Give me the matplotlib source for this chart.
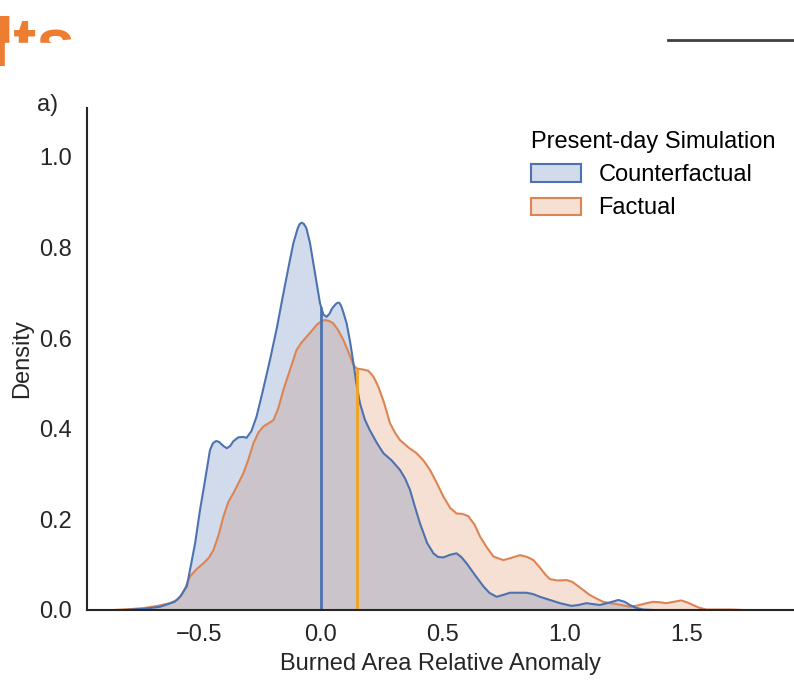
#!/usr/bin/env python3
"""
KDE-Vergleich Burned Area: Counterfactual vs. Factual (Present-day Simulation)
"""

import matplotlib
matplotlib.use('Agg')
import matplotlib.pyplot as plt
from matplotlib.patches import Patch, Rectangle
from matplotlib.lines import Line2D
import numpy as np

plt.rcParams['font.family'] = ['Liberation Sans', 'DejaVu Sans']

# Dichtekurven (x = Anomalie, y = Dichte)
cf_x = [-0.80, -0.72, -0.66, -0.60, -0.578, -0.55, -0.537, -0.516, -0.496, -0.475,
        -0.455, -0.443, -0.43, -0.418, -0.40, -0.386, -0.372, -0.36, -0.339, -0.32,
        -0.305, -0.285, -0.264, -0.24, -0.209, -0.18, -0.154, -0.13, -0.113, -0.095,
        -0.087, -0.079, -0.07, -0.06, -0.045, -0.025, -0.004, 0.01, 0.023, 0.035,
        0.045, 0.06, 0.068, 0.075, 0.082, 0.09, 0.105, 0.12, 0.133, 0.145,
        0.16, 0.18, 0.2, 0.23, 0.256, 0.29, 0.324, 0.345, 0.365, 0.385,
        0.406, 0.435, 0.461, 0.48, 0.502, 0.53, 0.556, 0.575, 0.597, 0.63,
        0.666, 0.69, 0.72, 0.745, 0.775, 0.81, 0.843, 0.87, 0.898, 0.939,
        0.98, 1.027, 1.055, 1.088, 1.115, 1.143, 1.18, 1.219, 1.245, 1.266,
        1.29, 1.32, 1.36]
cf_d = [0.0, 0.003, 0.007, 0.018, 0.029, 0.052, 0.088, 0.147, 0.22, 0.287,
        0.353, 0.368, 0.373, 0.371, 0.362, 0.357, 0.362, 0.372, 0.381, 0.382,
        0.38, 0.395, 0.427, 0.48, 0.552, 0.625, 0.699, 0.765, 0.81, 0.843,
        0.852, 0.855, 0.852, 0.843, 0.81, 0.745, 0.677, 0.652, 0.647, 0.654,
        0.665, 0.675, 0.678, 0.678, 0.672, 0.66, 0.633, 0.59, 0.545, 0.50,
        0.456, 0.42, 0.397, 0.368, 0.346, 0.33, 0.309, 0.29, 0.265, 0.228,
        0.191, 0.148, 0.125, 0.117, 0.116, 0.122, 0.125, 0.117, 0.103, 0.078,
        0.052, 0.038, 0.029, 0.033, 0.038, 0.038, 0.038, 0.035, 0.029, 0.022,
        0.015, 0.009, 0.011, 0.015, 0.013, 0.011, 0.016, 0.022, 0.018, 0.011,
        0.005, 0.001, 0.0]

f_x = [-0.85, -0.78, -0.728, -0.67, -0.619, -0.59, -0.571, -0.555, -0.537, -0.51,
       -0.482, -0.46, -0.441, -0.42, -0.4, -0.38, -0.359, -0.338, -0.318, -0.297,
       -0.277, -0.256, -0.236, -0.215, -0.195, -0.175, -0.154, -0.127, -0.1, -0.08,
       -0.059, -0.038, -0.018, 0.0, 0.016, 0.033, 0.05, 0.07, 0.092, 0.112,
       0.133, 0.146, 0.17, 0.194, 0.215, 0.235, 0.26, 0.283, 0.305, 0.324,
       0.36, 0.392, 0.42, 0.447, 0.475, 0.502, 0.53, 0.556, 0.58, 0.604,
       0.63, 0.652, 0.68, 0.707, 0.748, 0.78, 0.816, 0.845, 0.871, 0.898,
       0.92, 0.939, 0.97, 1.007, 1.03, 1.048, 1.075, 1.102, 1.13, 1.157,
       1.185, 1.211, 1.24, 1.266, 1.29, 1.307, 1.335, 1.361, 1.39, 1.416,
       1.445, 1.477, 1.5, 1.525, 1.55, 1.58, 1.68, 1.73]
f_d = [0.0, 0.002, 0.004, 0.009, 0.015, 0.022, 0.033, 0.05, 0.074, 0.09,
       0.103, 0.115, 0.132, 0.165, 0.206, 0.238, 0.258, 0.28, 0.302, 0.333,
       0.368, 0.392, 0.405, 0.412, 0.419, 0.445, 0.486, 0.53, 0.574, 0.59,
       0.603, 0.616, 0.629, 0.637, 0.64, 0.638, 0.633, 0.618, 0.596, 0.57,
       0.541, 0.533, 0.531, 0.528, 0.515, 0.493, 0.455, 0.412, 0.39, 0.375,
       0.358, 0.346, 0.33, 0.309, 0.28, 0.25, 0.225, 0.213, 0.212, 0.207,
       0.188, 0.162, 0.138, 0.118, 0.11, 0.115, 0.121, 0.117, 0.11, 0.093,
       0.078, 0.068, 0.065, 0.066, 0.062, 0.055, 0.044, 0.033, 0.025, 0.018,
       0.015, 0.013, 0.01, 0.007, 0.009, 0.011, 0.015, 0.018, 0.017, 0.015,
       0.018, 0.021, 0.017, 0.011, 0.005, 0.001, 0.001, 0.0]

# Mittelwerte (vertikale Linien)
cf_mean = 0.0
f_mean = 0.148

labels = ["Counterfactual", "Factual"]
legend_title = "Present-day Simulation"
x_ticks = [-0.5, 0.0, 0.5, 1.0, 1.5]
y_ticks = [0.0, 0.2, 0.4, 0.6, 0.8, 1.0]

BLUE = '#4C72B0'
ORANGE = '#DD8452'
MEAN_ORANGE = '#F5A31A'
TEXT = '#262626'

fig = plt.figure(figsize=(7.94, 6.81), dpi=100)
ax = fig.add_axes([0.1096, 0.1043, 0.8904, 0.7371])

# Factual zuerst, Counterfactual darüber (wie seaborn hue-Reihenfolge)
ax.fill_between(f_x, f_d, color=ORANGE, alpha=0.25, linewidth=0)
ax.plot(f_x, f_d, color=ORANGE, linewidth=1.5)
ax.fill_between(cf_x, cf_d, color=BLUE, alpha=0.25, linewidth=0)
ax.plot(cf_x, cf_d, color=BLUE, linewidth=1.5)

ax.vlines(cf_mean, 0, np.interp(cf_mean, cf_x, cf_d), color=BLUE, linewidth=2)
ax.vlines(f_mean, 0, np.interp(f_mean, f_x, f_d), color=MEAN_ORANGE, linewidth=2)

ax.set_xlim(-0.959, 1.939)
ax.set_ylim(0, 1.108)
ax.set_xticks(x_ticks)
ax.set_yticks(y_ticks)
ax.set_xticklabels([f'{t:.1f}'.replace('-', '\u2212') for t in x_ticks])
ax.set_yticklabels([f'{t:.1f}' for t in y_ticks])
ax.tick_params(axis='both', length=0, labelsize=17, colors=TEXT)
ax.tick_params(axis='y', pad=11)
ax.tick_params(axis='x', pad=10)

for side in ['top', 'right']:
    ax.spines[side].set_visible(False)
for side in ['left', 'bottom']:
    ax.spines[side].set_color(TEXT)
    ax.spines[side].set_linewidth(1.5)

ax.set_xlabel('Burned Area Relative Anomaly', fontsize=17, color=TEXT, labelpad=5)
ax.set_ylabel('Density', fontsize=17, color=TEXT, labelpad=4)

handles = [Patch(facecolor=matplotlib.colors.to_rgba(BLUE, 0.25), edgecolor=BLUE, linewidth=1.5),
           Patch(facecolor=matplotlib.colors.to_rgba(ORANGE, 0.25), edgecolor=ORANGE, linewidth=1.5)]
leg = ax.legend(handles, labels, title=legend_title, loc='upper left',
                bbox_to_anchor=(0.598, 0.996), frameon=False, fontsize=17,
                title_fontsize=17, alignment='left', handlelength=2.1,
                handleheight=0.76, handletextpad=0.76, labelspacing=0.47)

# "a)" Panel-Label
fig.text(37 / 794, 1 - 111 / 681, 'a)', fontsize=17, color=TEXT, va='baseline')

# Reste der Folie: abgeschnittener Titel und Linie oben rechts
fig.text(-0.008, 1 - 66 / 681, 'lts', fontsize=50, fontweight='bold',
         color='#ED7D31', va='baseline')
fig.add_artist(Rectangle((5 / 794, 1 - 85 / 681), 1, 42 / 681,
                         transform=fig.transFigure, color='white', zorder=5))
fig.add_artist(Line2D([668 / 794, 1.0], [1 - 40 / 681, 1 - 40 / 681],
                      transform=fig.transFigure, color='#404040', linewidth=2))

fig.savefig('out.png', dpi=100)
